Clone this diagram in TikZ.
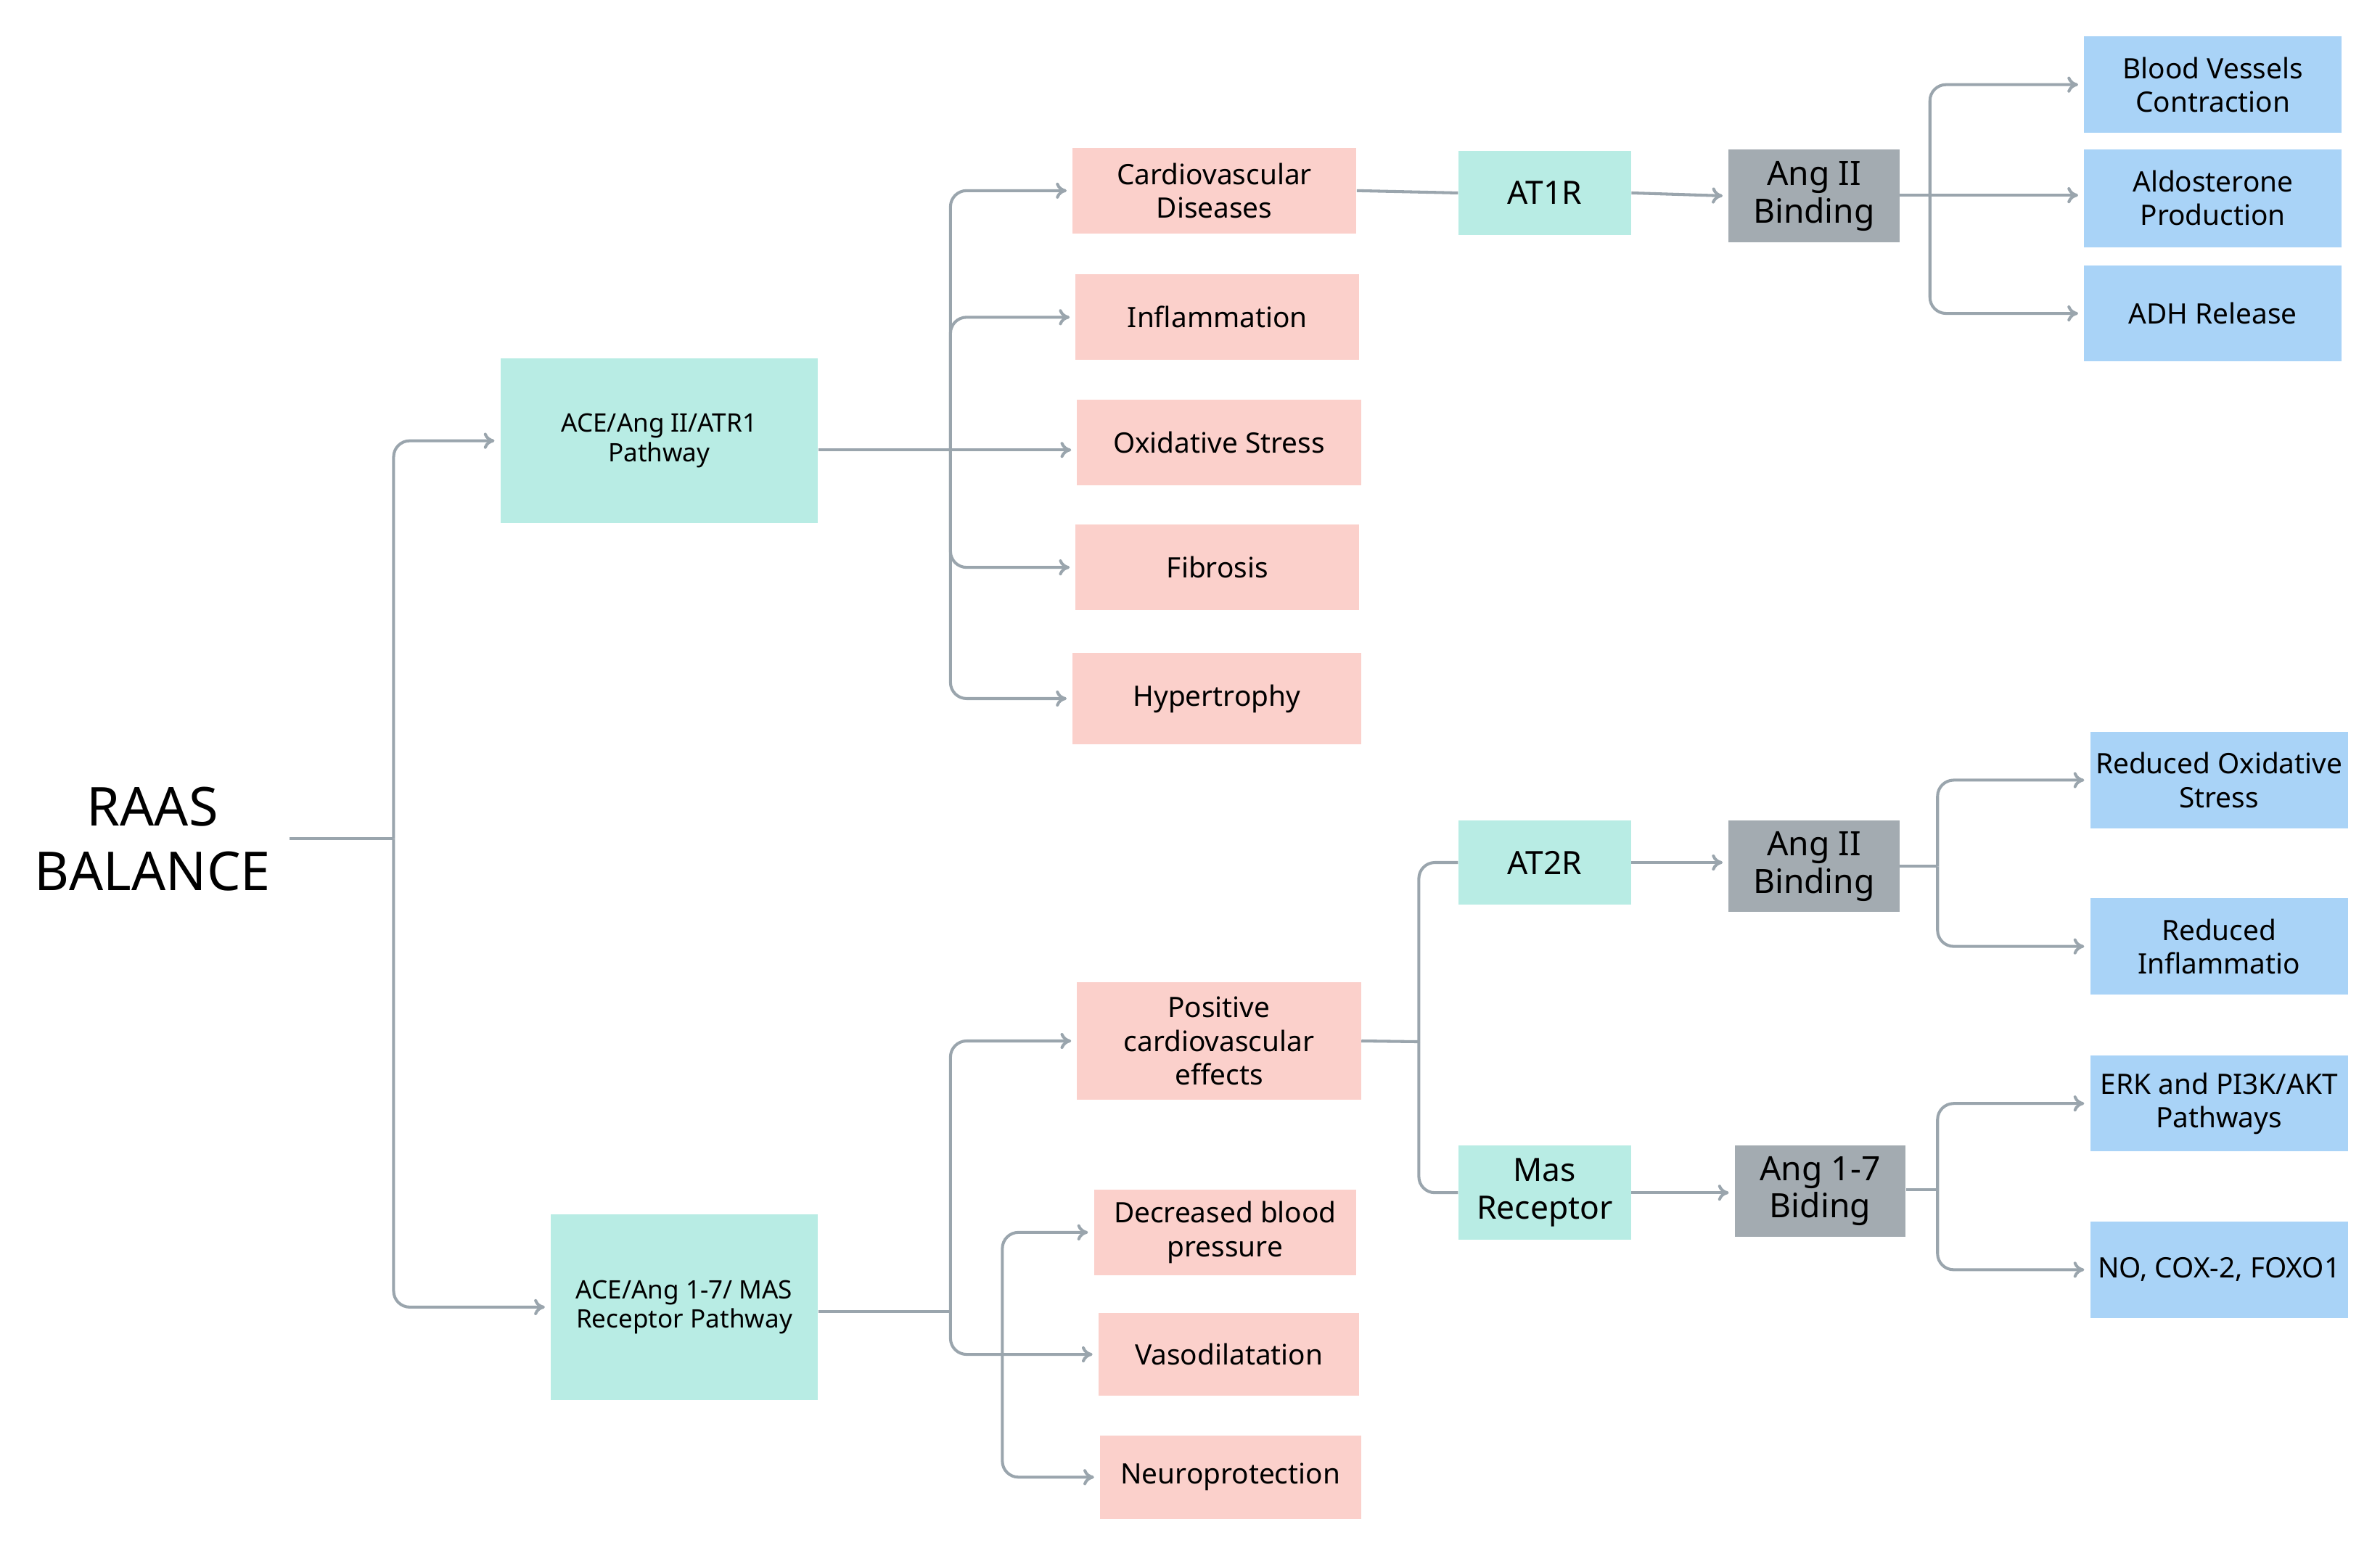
\documentclass[tikz,border=0pt]{standalone}
\usepackage{fontspec}
\setmainfont{Noto Sans}
\usetikzlibrary{arrows.meta}
\definecolor{teal}{HTML}{B8ECE4}
\definecolor{pink}{HTML}{FBD0CB}
\definecolor{grey}{HTML}{A3ABB1}
\definecolor{blue}{HTML}{A9D3F7}
\definecolor{ln}{HTML}{9AA5AD}
\newcommand\bx[7]{\node[#6, minimum width={(#4-#2)*0.02cm}, minimum height={(#5-#3)*0.02cm}] (#1) at ({(#2+#4)/2},{(#3+#5)/2}) {#7};}
\begin{document}
\begin{tikzpicture}[x=0.02cm,y=-0.02cm,
 base/.style={inner sep=1pt,align=center,text width=0},
 tl/.style={base,fill=teal,font=\bfseries\fontsize{9.5}{11}\selectfont},
 tb/.style={base,fill=teal,font=\bfseries\fontsize{12}{14}\selectfont},
 pk/.style={base,fill=pink,font=\fontsize{10.5}{12.5}\selectfont},
 gr/.style={base,fill=grey,font=\bfseries\fontsize{12.5}{14}\selectfont},
 bl/.style={base,fill=blue,font=\fontsize{10.5}{12.5}\selectfont},
 c/.style={draw=ln,line width=1.1pt,rounded corners=6pt},
 a/.style={c,-{To[length=4pt,width=6pt]},shorten >=2pt}]
\useasboundingbox (0,0) rectangle (1560,1020);
\tikzset{base/.append style={text width=}}
\node[font=\bfseries\fontsize{20}{24}\selectfont,align=center] (raas) at (100,550) {RAAS\\BALANCE};
\coordinate (rs) at (190,550);
\bx{p1}{328}{235}{536}{343}{tl}{ACE/Ang II/ATR1\\Pathway}
\bx{p2}{361}{796}{536}{918}{tl}{ACE/Ang 1-7/ MAS\\Receptor Pathway}
\bx{cv}{703}{97}{889}{153}{pk}{Cardiovascular\\Diseases}
\bx{inf}{705}{180}{891}{236}{pk}{Inflammation}
\bx{ox}{706}{262}{892}{318}{pk}{Oxidative Stress}
\bx{fib}{705}{344}{891}{400}{pk}{Fibrosis}
\bx{hyp}{703}{428}{892}{488}{pk}{Hypertrophy}
\bx{at1}{956}{99}{1069}{154}{tb}{AT1R}
\bx{ang1}{1133}{98}{1245}{159}{gr}{Ang II\\Binding}
\bx{bv}{1366}{24}{1535}{87}{bl}{Blood Vessels\\Contraction}
\bx{ald}{1366}{98}{1535}{162}{bl}{Aldosterone\\Production}
\bx{adh}{1366}{174}{1535}{237}{bl}{ADH Release}
\bx{pos}{706}{644}{892}{721}{pk}{Positive\\cardiovascular\\effects}
\bx{dec}{717}{780}{889}{836}{pk}{Decreased blood\\pressure}
\bx{vas}{720}{861}{891}{915}{pk}{Vasodilatation}
\bx{neu}{721}{941}{892}{996}{pk}{Neuroprotection}
\bx{at2}{956}{538}{1069}{593}{tb}{AT2R}
\bx{mas}{956}{751}{1069}{813}{tb}{Mas\\Receptor}
\bx{ang2}{1133}{538}{1245}{598}{gr}{Ang II\\Binding}
\bx{ang3}{1137}{751}{1249}{811}{gr}{Ang 1-7\\Biding}
\bx{rox}{1370}{480}{1539}{543}{bl}{Reduced Oxidative\\Stress}
\bx{rin}{1370}{589}{1539}{652}{bl}{Reduced\\Inflammatio}
\bx{erk}{1370}{692}{1539}{755}{bl}{ERK and PI3K/AKT\\Pathways}
\bx{no}{1370}{801}{1539}{864}{bl}{NO, COX-2, FOXO1}
% root
\coordinate (j0) at (258,550);
\draw[c] (rs) -- (j0);
\draw[a] (j0) |- (p1.west);
\draw[a] (j0) |- ([xshift=0pt]p2.west);
% upper
\coordinate (j1) at (623,295);
\draw[a] (p1.east|-j1) -- (ox.west|-j1);
\draw[a] (j1) |- (cv.west);
\draw[a] (j1) |- (inf.west);
\draw[a] (j1) |- (fib.west);
\draw[a] (j1) |- (hyp.west);
\draw[c] (cv.east) -- (at1.west);
\draw[a] (at1.east) -- (ang1.west);
\coordinate (j2) at (1265,128);
\draw[c] (ang1.east|-j2) -- (j2);
\draw[a] (j2) |- (bv.west);
\draw[a] (j2) -- (ald.west|-j2);
\draw[a] (j2) |- (adh.west);
% lower
\coordinate (j3) at (623,860);
\draw[c] (p2.east|-j3) -- (j3);
\draw[a] (j3) |- (pos.west);
\draw[a] (j3) |- (vas.west);
\coordinate (j4) at (657,887);
\draw[a] (j4) |- (dec.west);
\draw[a] (j4) |- (neu.west);
\coordinate (j5) at (930,683);
\draw[c] (pos.east) -- (j5);
\draw[c] (j5) |- (at2.west);
\draw[c] (j5) |- (mas.west);
\draw[a] (at2.east) -- (ang2.west|-at2.east);
\draw[a] (mas.east) -- (ang3.west|-mas.east);
\coordinate (j6) at (1270,568);
\draw[c] (ang2.east|-j6) -- (j6);
\draw[a] (j6) |- (rox.west);
\draw[a] (j6) |- (rin.west);
\coordinate (j7) at (1270,780);
\draw[c] (ang3.east|-j7) -- (j7);
\draw[a] (j7) |- (erk.west);
\draw[a] (j7) |- (no.west);
\end{tikzpicture}
\end{document}
